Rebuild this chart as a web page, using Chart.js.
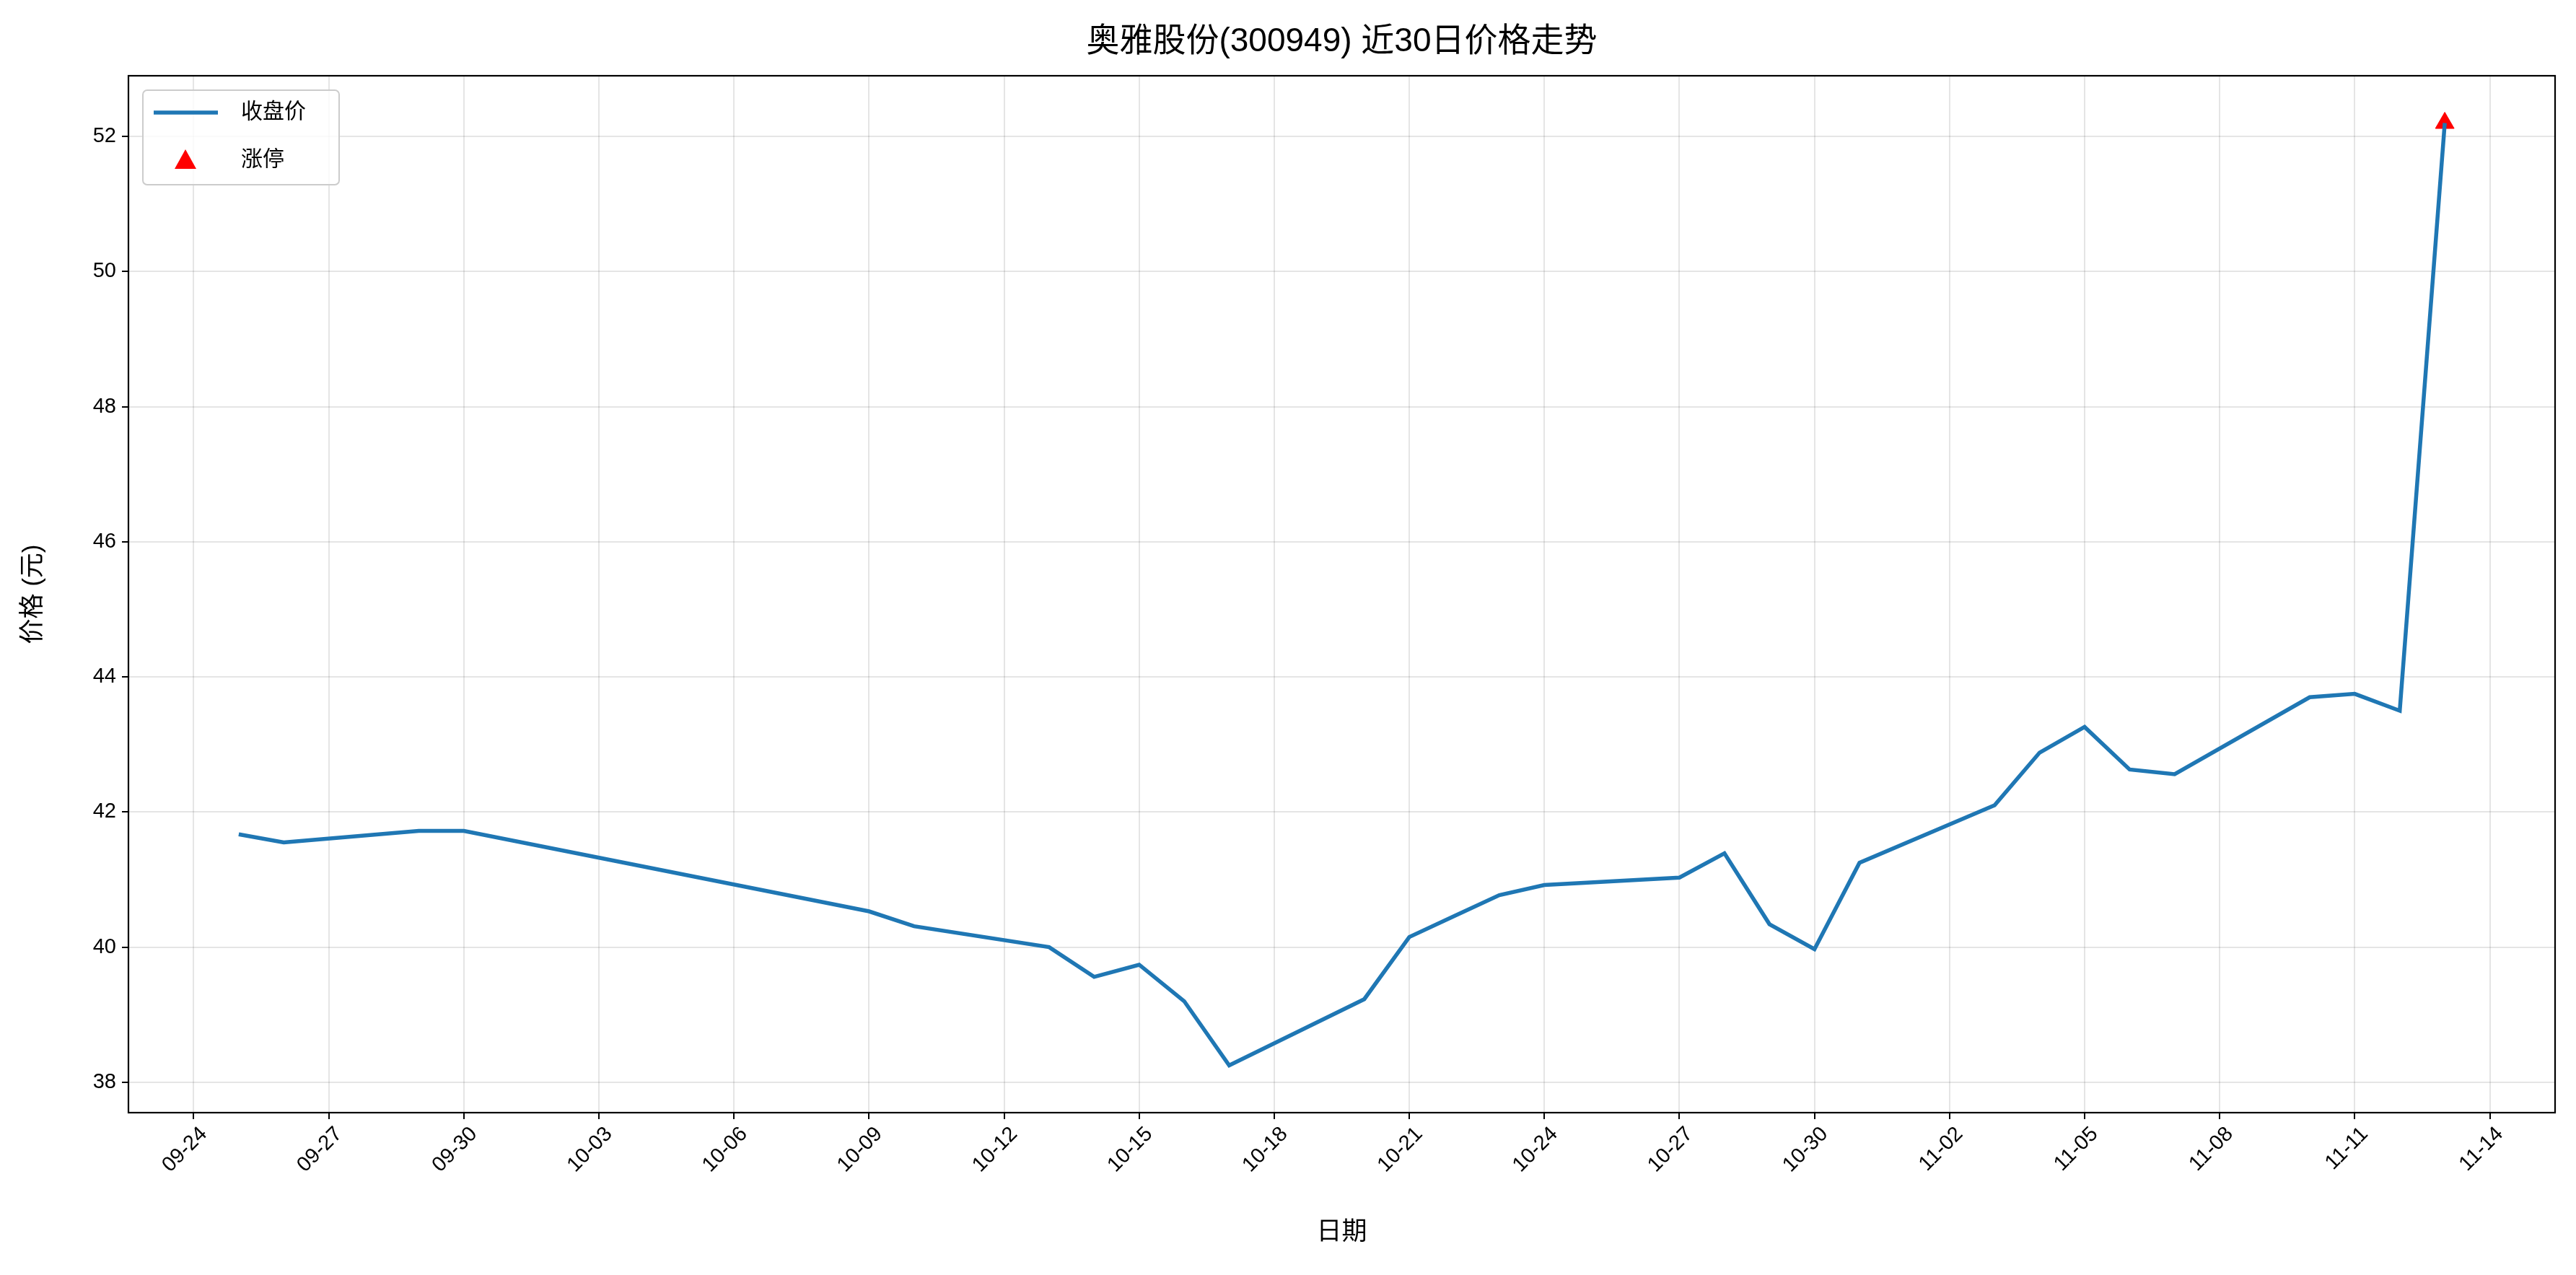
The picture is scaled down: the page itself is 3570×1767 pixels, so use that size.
<!DOCTYPE html>
<html><head><meta charset="utf-8">
<script src="https://cdn.jsdelivr.net/npm/chart.js@4"></script>
<style>html,body{margin:0;padding:0;background:#fff}#w{width:3570px;height:1767px}</style>
</head><body><div id="w"><canvas id="c"></canvas></div>
<script>
const dates=["09-25","09-26","09-29","09-30","10-09","10-10","10-13","10-14","10-15","10-16","10-17","10-20","10-21","10-22","10-23","10-24","10-27","10-28","10-29","10-30","10-31","11-03","11-04","11-05","11-06","11-07","11-10","11-11","11-12","11-13"];
const closes=[41.67,41.55,41.72,41.72,40.53,40.31,40.00,39.56,39.74,39.20,38.25,39.23,40.15,40.46,40.77,40.92,41.03,41.39,40.34,39.97,41.25,42.10,42.88,43.26,42.63,42.56,43.70,43.75,43.50,52.20];
const limitUpDates=["11-13"];
const limitUpPrices=[52.20];
const yTicks=[38,40,42,44,46,48,50,52];
const TITLE="奥雅股份(300949) 近30日价格走势";
const BASE=Date.UTC(2025,8,24);
const dayOf=s=>{const [m,d]=s.split("-").map(Number);return Math.round((Date.UTC(2025,m-1,d)-BASE)/86400000);};
const lab=v=>{const t=new Date(BASE+v*86400000);return String(t.getUTCMonth()+1).padStart(2,"0")+"-"+String(t.getUTCDate()).padStart(2,"0");};
const F="'Liberation Sans','Noto Sans CJK SC',sans-serif";
const C="#1f77b4";
const deco={id:"deco",afterDraw(ch){const x=ch.ctx,a=ch.chartArea;x.save();
x.strokeStyle="#000";x.lineWidth=2.2;x.strokeRect(a.left,a.top,a.right-a.left,a.bottom-a.top);
x.fillStyle="#000";x.textAlign="center";x.textBaseline="middle";
x.font="46px "+F;x.fillText(TITLE,(a.left+a.right)/2,58);
x.font="35px "+F;x.fillText("日期",(a.left+a.right)/2,1708);
x.save();x.translate(46,(a.top+a.bottom)/2);x.rotate(-Math.PI/2);x.fillText("价格 (元)",0,0);x.restore();
x.fillStyle="rgba(255,255,255,0.8)";x.strokeStyle="#ccc";x.lineWidth=2;
x.beginPath();x.roundRect(198,125,272,131,6);x.fill();x.stroke();
x.strokeStyle=C;x.lineWidth=5.5;x.beginPath();x.moveTo(213,156);x.lineTo(302,156);x.stroke();
x.fillStyle="red";x.beginPath();x.moveTo(257,207);x.lineTo(272,234);x.lineTo(242,234);x.closePath();x.fill();
x.fillStyle="#000";x.textAlign="left";x.font="30px "+F;x.fillText("收盘价",334,156);x.fillText("涨停",334,222);
x.restore();}};
new Chart(document.getElementById("c"),{type:"line",
data:{datasets:[
{data:dates.map((d,i)=>({x:dayOf(d),y:closes[i]})),borderColor:C,borderWidth:5.5,pointRadius:0,tension:0},
{data:limitUpDates.map((d,i)=>({x:dayOf(d),y:limitUpPrices[i]})),showLine:false,pointStyle:"triangle",pointRadius:15,backgroundColor:"red",borderColor:"red"}]},
options:{responsive:true,maintainAspectRatio:false,animation:false,devicePixelRatio:1,
layout:{padding:{top:105,right:29,left:0,bottom:0}},
plugins:{legend:{display:false},tooltip:{enabled:false}},
scales:{
x:{type:"linear",min:-1.45,max:52.45,afterBuildTicks(s){s.ticks=[];for(let v=0;v<=51;v+=3)s.ticks.push({value:v});},
afterFit(s){s.height=225;},
ticks:{callback:v=>lab(v),maxRotation:45,minRotation:45,color:"#000",font:{size:29,family:F},padding:4,labelOffset:14},
grid:{color:"rgba(0,0,0,0.1)",lineWidth:2,tickLength:9,tickColor:"#000"},border:{display:false}},
y:{min:37.55,max:52.9,afterBuildTicks(s){s.ticks=yTicks.map(v=>({value:v}));},
afterFit(s){s.width=178;},
ticks:{color:"#000",font:{size:29,family:F},padding:8},
grid:{color:"rgba(0,0,0,0.1)",lineWidth:2,tickLength:9,tickColor:"#000"},border:{display:false}}}},
plugins:[deco]});
</script></body></html>
